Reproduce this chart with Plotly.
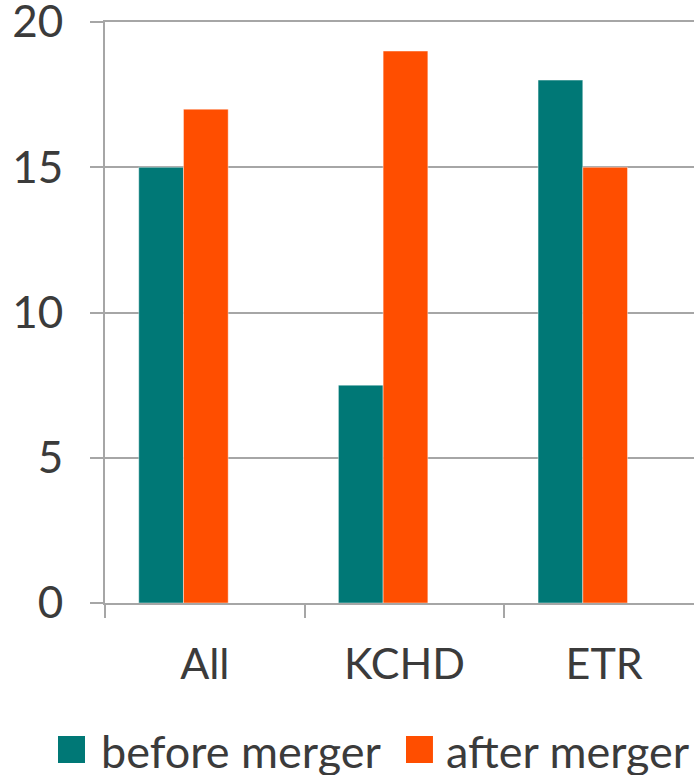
import plotly.graph_objects as go

# Data
categories = ["All", "KCHD", "ETR"]
before_merger = [15, 7.5, 18]
after_merger = [17, 19, 15]
series_names = ["before merger", "after merger"]
y_ticks = [0, 5, 10, 15, 20]

TEAL = "#007876"
ORANGE = "#FF4E00"
GRID = "#A6A6A6"
TEXT = "#3B3B3B"
FONT = "Lato"

BAR_W = 0.224

fig = go.Figure()
fig.add_trace(go.Bar(
    x=categories, y=before_merger, name=series_names[0],
    marker=dict(color=TEAL, line=dict(color="rgba(255,255,255,0.55)", width=0.8)),
    width=BAR_W, offset=-0.331, showlegend=False,
))
fig.add_trace(go.Bar(
    x=categories, y=after_merger, name=series_names[1],
    marker=dict(color=ORANGE, line=dict(color="rgba(255,255,255,0.55)", width=0.8)),
    width=BAR_W, offset=-0.331 + BAR_W, showlegend=False,
))

# Legend drawn as swatches + labels below the axis
legend_items = [
    (series_names[0], TEAL, -0.0798, -0.0100),
    (series_names[1], ORANGE, 0.5110, 0.5750),
]
shapes = []
annotations = []
for name, color, sx, tx in legend_items:
    shapes.append(dict(
        type="rect", xref="paper", yref="paper",
        x0=sx, x1=sx + 0.0458, y0=-0.2754, y1=-0.2289,
        fillcolor=color, line=dict(width=0),
    ))
    annotations.append(dict(
        text=name, xref="paper", yref="paper", x=tx, y=-0.2540,
        xanchor="left", yanchor="middle", showarrow=False,
        font=dict(family=FONT, size=45, color=TEXT),
    ))

fig.update_layout(
    width=694, height=775,
    margin=dict(l=105, r=0, t=22, b=172, autoexpand=False),
    paper_bgcolor="white", plot_bgcolor="white",
    barmode="overlay",
    shapes=shapes, annotations=annotations,
    font=dict(family=FONT, size=43, color=TEXT),
)
# mirrored x line doubles as the top gridline at 20
fig.update_xaxes(
    type="category", range=[-0.5, 2.45], automargin=False,
    tickson="boundaries", ticks="outside", ticklen=13, tickwidth=2, tickcolor=GRID,
    showline=True, mirror=True, linecolor=GRID, linewidth=2,
    showgrid=False, ticklabelstandoff=22,
    tickfont=dict(family=FONT, size=43, color=TEXT),
)
fig.update_yaxes(
    range=[0, 20], tickvals=y_ticks, automargin=False,
    ticks="outside", ticklen=13, tickwidth=2, tickcolor=GRID,
    showline=True, linecolor=GRID, linewidth=2,
    showgrid=True, gridcolor=GRID, gridwidth=2, zeroline=False,
    ticklabelstandoff=18, ticklabeloverflow="allow",
    tickfont=dict(family=FONT, size=44, color=TEXT),
)

fig.write_html("out.html")
